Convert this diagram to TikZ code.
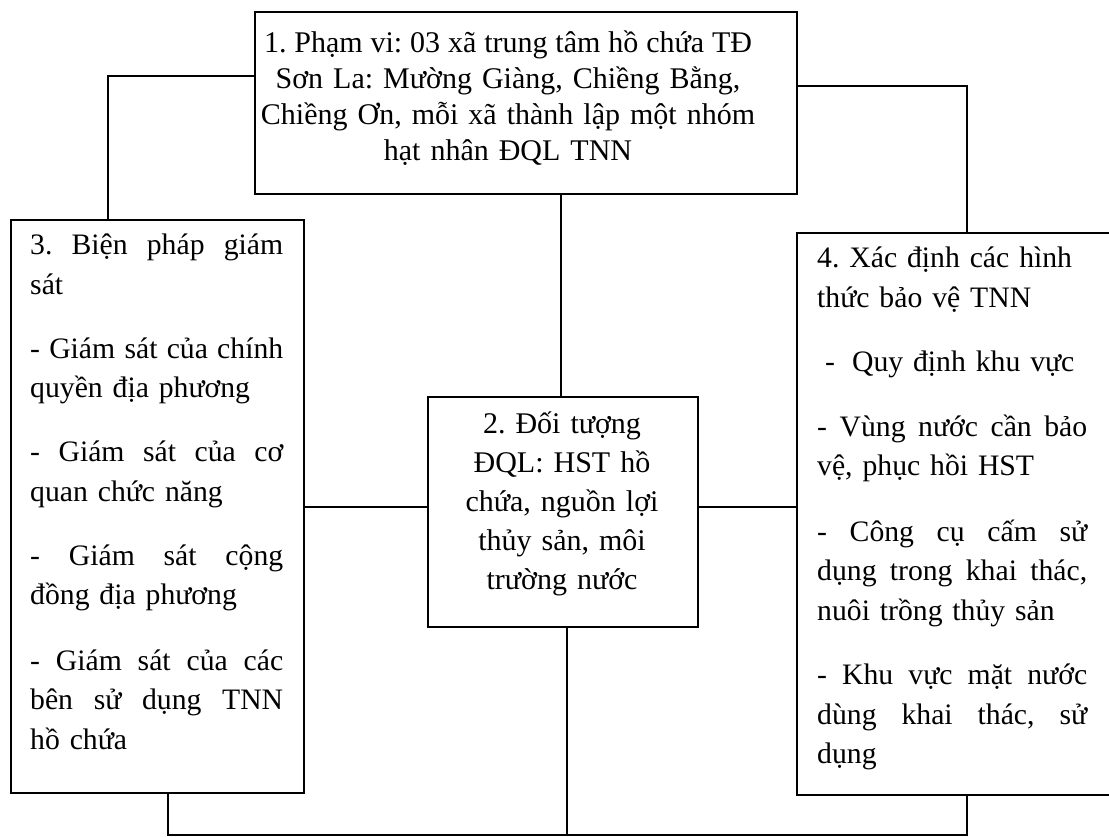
\documentclass[tikz,border=0pt]{standalone}
\usepackage{fontspec}
\setmainfont{Liberation Serif}
\frenchspacing
% a line whose interword spaces stretch to the given width
\newcommand{\jl}[2]{\leavevmode\hbox to #1{\spaceskip=0.25em plus 1fil\relax #2}}
\begin{document}
\begin{tikzpicture}[x=1pt,y=-1pt,
  box/.style={draw, line width=2pt, anchor=north west, inner sep=0pt},
  link/.style={draw, line width=1.8pt},
  txt/.style={inner sep=0pt, font=\fontsize{29.7}{39.5}\selectfont},
  ctr/.style={txt, align=center, anchor=base},
  lft/.style={txt, align=left, anchor=base west}]
\clip (0,0) rectangle (1109,837);
\fill[white] (0,0) rectangle (1109,837);

% boxes (the right box runs past the right margin)
\node[box, minimum width=542pt, minimum height=182pt] (b1) at (254,11) {};
\node[box, minimum width=293pt, minimum height=573pt] (b3) at (10,219) {};
\node[box, minimum width=270pt, minimum height=230pt] (b2) at (427,396) {};
\node[box, minimum width=318pt, minimum height=562pt] (b4) at (796,232) {};

% box texts
\node[ctr, text width=530pt, font=\fontsize{30}{35.7}\selectfont] (t1) at (508,53)
  {\jl{488pt}{1. Phạm vi: 03 xã trung tâm hồ chứa TĐ}\\
   Sơn La: Mường Giàng, Chiềng Bằng,\\
   Chiềng Ơn, mỗi xã thành lập một nhóm\\
   hạt nhân ĐQL TNN};

\node[ctr, text width=260pt, font=\fontsize{30}{39.2}\selectfont] (t2) at (562,433)
  {2. Đối tượng\\ ĐQL: HST hồ\\ chứa, nguồn lợi\\ thủy sản, môi\\ trường nước};

\node[lft, text width=253pt] (t3) at (30,255)
  {\jl{253pt}{3. Biện pháp giám}\\ sát\\[24.5pt]
   \jl{253pt}{- Giám sát của chính}\\ quyền địa phương\\[24.5pt]
   \jl{253pt}{- Giám sát của cơ}\\ quan chức năng\\[24.5pt]
   \jl{253pt}{- Giám sát cộng}\\ đồng địa phương\\[26pt]
   \jl{253pt}{- Giám sát của các}\\ \jl{253pt}{bên sử dụng TNN}\\ hồ chứa};

\node[lft, text width=271pt] (t4) at (817,268)
  {4. Xác định các hình\\ thức bảo vệ TNN\\[25pt]
   \hspace*{8pt}-\hspace{17pt}Quy định khu vực\\[25pt]
   \jl{270pt}{- Vùng nước cần bảo}\\ vệ, phục hồi HST\\[26pt]
   \jl{270pt}{- Công cụ cấm sử}\\ \jl{270pt}{dụng trong khai thác,}\\ nuôi trồng thủy sản\\[25pt]
   \jl{270pt}{- Khu vực mặt nước}\\ \jl{270pt}{dùng khai thác, sử}\\ dụng};

% connectors
\coordinate (k1) at (108,76);
\coordinate (k2) at (967,86);
\coordinate (k3) at (561,0);
\coordinate (k4) at (0,507);
\coordinate (k5) at (168,835);
\coordinate (k6) at (967,835);
\coordinate (k7) at (567,835);
\draw[link] (b1.west |- k1) -- (k1) -- (k1 |- b3.north);
\draw[link] (b1.east |- k2) -- (k2) -- (k2 |- b4.north);
\draw[link] (b1.south -| k3) -- (b2.north -| k3);
\draw[link] (b3.east |- k4) -- (b2.west |- k4);
\draw[link] (b2.east |- k4) -- (b4.west |- k4);
\draw[link] (b3.south -| k5) -- (k5) -- (k6) -- (b4.south -| k6);
\draw[link] (b2.south -| k7) -- (k7);
\end{tikzpicture}
\end{document}
